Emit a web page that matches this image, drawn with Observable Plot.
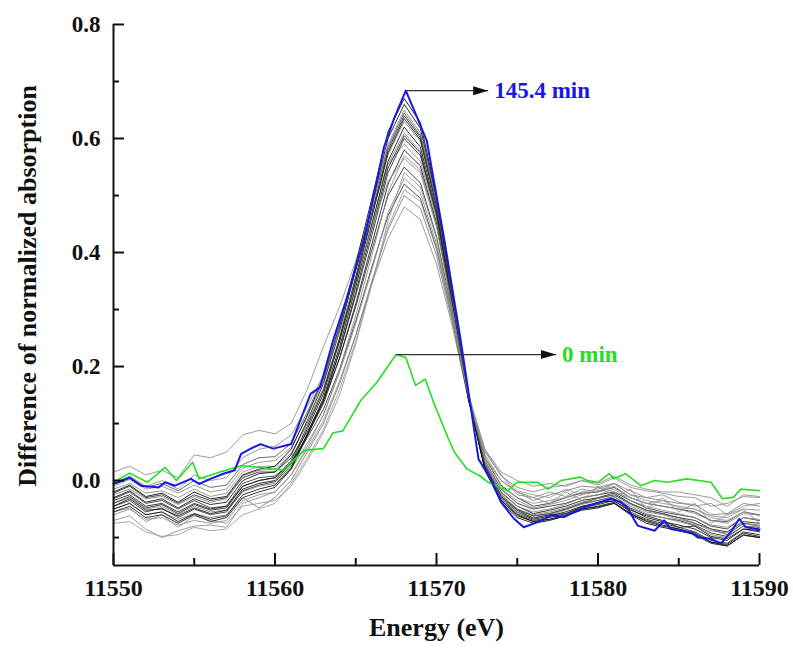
<!DOCTYPE html>
<html><head><meta charset="utf-8">
<script src="https://cdn.jsdelivr.net/npm/d3@7"></script>
<script src="https://cdn.jsdelivr.net/npm/@observablehq/plot@0.6"></script>
<style>body{margin:0;background:#fff}</style>
</head><body><div id="chart"></div>
<script>
// ---------- data ----------
const energyGrid = [11550,11551,11552,11553,11554,11555,11556,11557,11558,11559,
  11560,11561,11562,11563,11564,11565,11566,11567,11568,11569,
  11570,11571,11572,11573,11574,11575,11576,11577,11578,11579,
  11580,11581,11582,11583,11584,11585,11586,11587,11588,11589,11590];

const g01 = [-0.070,-0.062,-0.085,-0.100,-0.088,-0.080,-0.078,-0.082,-0.040,-0.030,
 -0.020,0.010,0.055,0.105,0.175,0.255,0.345,0.425,0.480,0.458,
 0.380,0.268,0.140,0.052,0.008,-0.012,-0.020,-0.012,-0.008,0.000,
 -0.008,0.005,-0.012,-0.018,-0.022,-0.028,-0.030,-0.045,-0.040,-0.028,-0.030];
const g02 = [-0.050,-0.040,-0.060,-0.055,-0.068,-0.058,-0.065,-0.060,-0.030,-0.048,
 -0.030,0.000,0.050,0.100,0.170,0.255,0.350,0.440,0.500,0.478,
 0.395,0.275,0.140,0.045,0.000,-0.020,-0.035,-0.025,-0.018,-0.010,
 -0.012,-0.005,-0.025,-0.030,-0.035,-0.040,-0.042,-0.060,-0.058,-0.040,-0.045];
const g03 = [-0.032,-0.020,-0.040,-0.035,-0.050,-0.035,-0.048,-0.045,-0.005,0.005,
 0.008,0.030,0.075,0.125,0.195,0.280,0.375,0.465,0.520,0.495,
 0.408,0.282,0.138,0.040,-0.008,-0.030,-0.045,-0.040,-0.030,-0.022,
 -0.020,-0.012,-0.030,-0.040,-0.045,-0.050,-0.055,-0.070,-0.072,-0.055,-0.060];
const g04 = [-0.040,-0.030,-0.050,-0.045,-0.060,-0.045,-0.055,-0.052,-0.020,-0.010,
 -0.005,0.020,0.065,0.115,0.190,0.275,0.370,0.470,0.530,0.505,
 0.415,0.288,0.150,0.055,0.015,0.000,-0.010,-0.005,-0.010,0.000,
 -0.005,0.008,-0.008,-0.015,-0.020,-0.020,-0.025,-0.030,-0.045,-0.025,-0.028];
const g05 = [-0.022,-0.010,-0.030,-0.025,-0.040,-0.025,-0.035,-0.030,0.005,0.015,
 0.015,0.040,0.085,0.140,0.215,0.305,0.405,0.500,0.550,0.522,
 0.428,0.292,0.140,0.035,-0.015,-0.040,-0.050,-0.045,-0.040,-0.030,
 -0.025,-0.020,-0.035,-0.048,-0.055,-0.060,-0.065,-0.080,-0.085,-0.065,-0.070];
const g06 = [-0.060,-0.050,-0.068,-0.065,-0.078,-0.070,-0.075,-0.070,-0.035,-0.025,
 -0.020,0.010,0.060,0.115,0.195,0.290,0.395,0.505,0.570,0.545,
 0.448,0.300,0.142,0.035,-0.015,-0.035,-0.048,-0.042,-0.035,-0.025,
 -0.018,-0.010,-0.030,-0.040,-0.045,-0.050,-0.058,-0.070,-0.075,-0.058,-0.060];
const g07 = [-0.035,-0.025,-0.045,-0.040,-0.055,-0.040,-0.050,-0.045,-0.010,0.000,
 0.005,0.030,0.080,0.135,0.215,0.310,0.415,0.520,0.580,0.552,
 0.452,0.302,0.142,0.030,-0.020,-0.045,-0.058,-0.052,-0.045,-0.035,
 -0.030,-0.022,-0.040,-0.052,-0.058,-0.065,-0.070,-0.085,-0.090,-0.072,-0.075];
const g08 = [0.015,0.025,0.010,0.018,0.005,0.045,0.040,0.050,0.080,0.088,
 0.082,0.100,0.160,0.235,0.305,0.385,0.475,0.555,0.590,0.560,
 0.460,0.310,0.150,0.040,-0.010,-0.030,-0.040,-0.035,-0.030,-0.020,
 -0.015,-0.005,-0.025,-0.035,-0.040,-0.045,-0.050,-0.062,-0.065,-0.050,-0.052];
const g09 = [-0.045,-0.035,-0.055,-0.048,-0.065,-0.050,-0.060,-0.055,-0.018,-0.008,
 -0.002,0.025,0.080,0.140,0.225,0.325,0.430,0.540,0.600,0.570,
 0.465,0.308,0.142,0.028,-0.025,-0.050,-0.062,-0.058,-0.050,-0.040,
 -0.035,-0.028,-0.048,-0.060,-0.065,-0.070,-0.078,-0.092,-0.098,-0.080,-0.082];
const g10 = [-0.015,-0.005,-0.022,-0.018,-0.030,-0.015,-0.028,-0.022,0.015,0.025,
 0.025,0.048,0.100,0.160,0.245,0.345,0.450,0.555,0.610,0.578,
 0.470,0.310,0.145,0.030,-0.022,-0.045,-0.055,-0.050,-0.042,-0.030,
 -0.025,-0.015,-0.035,-0.045,-0.052,-0.058,-0.065,-0.078,-0.082,-0.065,-0.068];
const g11 = [-0.050,-0.040,-0.060,-0.055,-0.072,-0.058,-0.068,-0.062,-0.025,-0.015,
 -0.008,0.022,0.082,0.145,0.235,0.340,0.450,0.560,0.620,0.585,
 0.475,0.312,0.142,0.025,-0.030,-0.055,-0.068,-0.062,-0.055,-0.045,
 -0.040,-0.032,-0.050,-0.065,-0.072,-0.078,-0.085,-0.100,-0.105,-0.085,-0.090];
const g12 = [-0.025,-0.015,-0.032,-0.028,-0.042,-0.028,-0.038,-0.032,0.008,0.018,
 0.020,0.045,0.100,0.162,0.250,0.355,0.465,0.572,0.630,0.595,
 0.480,0.315,0.145,0.028,-0.025,-0.050,-0.060,-0.055,-0.048,-0.038,
 -0.032,-0.025,-0.042,-0.055,-0.060,-0.068,-0.075,-0.088,-0.092,-0.075,-0.078];
const g13 = [-0.040,-0.028,-0.048,-0.042,-0.058,-0.042,-0.052,-0.048,-0.010,0.000,
 0.005,0.035,0.095,0.158,0.250,0.358,0.470,0.580,0.640,0.602,
 0.485,0.315,0.142,0.022,-0.032,-0.058,-0.070,-0.065,-0.058,-0.048,
 -0.042,-0.035,-0.055,-0.068,-0.075,-0.082,-0.090,-0.105,-0.110,-0.090,-0.095];
const g14 = [-0.010,0.002,-0.015,-0.010,-0.022,-0.008,-0.020,-0.015,0.022,0.032,
 0.035,0.058,0.112,0.175,0.265,0.370,0.482,0.590,0.650,0.610,
 0.490,0.318,0.145,0.025,-0.030,-0.055,-0.065,-0.060,-0.052,-0.042,
 -0.035,-0.028,-0.045,-0.058,-0.065,-0.072,-0.080,-0.095,-0.100,-0.080,-0.085];
const g15 = [-0.030,-0.018,-0.038,-0.032,-0.048,-0.032,-0.042,-0.038,0.000,0.012,
 0.015,0.045,0.105,0.170,0.262,0.370,0.485,0.600,0.660,0.618,
 0.495,0.320,0.142,0.020,-0.035,-0.062,-0.072,-0.068,-0.060,-0.050,
 -0.045,-0.038,-0.058,-0.072,-0.080,-0.085,-0.092,-0.108,-0.112,-0.092,-0.098];
const g16 = [-0.020,-0.008,-0.028,-0.022,-0.038,-0.020,-0.032,-0.028,0.010,0.020,
 0.025,0.055,0.115,0.180,0.272,0.380,0.495,0.612,0.670,0.628,
 0.500,0.322,0.142,0.018,-0.038,-0.065,-0.075,-0.070,-0.062,-0.052,
 -0.048,-0.040,-0.060,-0.075,-0.082,-0.088,-0.095,-0.110,-0.115,-0.095,-0.100];
const g17 = [-0.055,-0.048,-0.072,-0.060,-0.082,-0.062,-0.070,-0.075,-0.045,-0.040,
 -0.035,-0.010,0.035,0.085,0.150,0.240,0.345,0.455,0.540,0.515,
 0.425,0.290,0.145,0.050,0.010,-0.025,-0.030,-0.040,-0.020,-0.035,
 -0.010,-0.030,-0.015,-0.050,-0.030,-0.055,-0.040,-0.075,-0.060,-0.050,-0.075];
const g18 = [-0.055,-0.045,-0.065,-0.060,-0.075,-0.060,-0.072,-0.065,-0.030,-0.020,
 -0.012,0.020,0.078,0.140,0.228,0.330,0.440,0.548,0.605,0.575,
 0.468,0.308,0.140,0.025,-0.028,-0.052,-0.066,-0.060,-0.058,-0.046,
 -0.038,-0.036,-0.052,-0.062,-0.070,-0.082,-0.080,-0.098,-0.102,-0.085,-0.088];
const g19 = [-0.005,0.008,-0.010,0.000,-0.015,0.010,0.000,0.005,0.040,0.055,
 0.060,0.080,0.130,0.185,0.260,0.350,0.445,0.525,0.565,0.540,
 0.445,0.300,0.145,0.040,0.000,-0.020,-0.030,-0.020,-0.028,-0.015,
 -0.020,-0.005,-0.018,-0.030,-0.025,-0.038,-0.045,-0.040,-0.060,-0.045,-0.040];
const g20 = [-0.045,-0.032,-0.052,-0.050,-0.062,-0.048,-0.058,-0.052,-0.015,-0.005,
 0.000,0.030,0.090,0.152,0.245,0.350,0.462,0.575,0.635,0.598,
 0.482,0.316,0.142,0.020,-0.035,-0.060,-0.072,-0.068,-0.062,-0.050,
 -0.046,-0.040,-0.058,-0.070,-0.078,-0.085,-0.094,-0.108,-0.114,-0.096,-0.100];
const g21 = [-0.075,-0.072,-0.090,-0.098,-0.095,-0.082,-0.088,-0.085,-0.060,-0.050,
 -0.040,-0.005,0.040,0.090,0.160,0.245,0.345,0.445,0.510,0.490,
 0.405,0.280,0.145,0.055,0.010,-0.018,-0.025,-0.030,-0.015,-0.025,
 -0.012,-0.020,-0.030,-0.040,-0.035,-0.048,-0.050,-0.065,-0.070,-0.055,-0.062];
const g22 = [-0.005,0.006,-0.012,-0.005,-0.018,0.000,-0.012,-0.008,0.028,0.040,
 0.042,0.065,0.120,0.182,0.270,0.372,0.480,0.585,0.645,0.605,
 0.485,0.316,0.146,0.028,-0.028,-0.052,-0.062,-0.058,-0.050,-0.040,
 -0.030,-0.025,-0.040,-0.052,-0.058,-0.065,-0.075,-0.085,-0.095,-0.075,-0.080];
const grayShades = ["#8a8a8a","#7a7a7a","#333333","#8a8a8a","#2a2a2a","#888888","#1a1a1a","#8c8c8c",
                    "#2a2a2a","#8a8a8a","#111111","#7e7e7e","#222222","#8a8a8a","#111111","#000000",
                    "#909090","#1a1a1a","#8a8a8a","#111111","#999999","#555555"];

// 0 min (green)
const greenE = [11550,11551,11552.1,11553.2,11553.9,11554.9,11555.3,11556.6,11557.9,11559.1,11560.5,
  11561.8,11563,11563.6,11564.2,11565.3,11566.3,11567.5,11568.1,11568.7,11569.3,11569.85,11570.7,
  11571.1,11571.9,11572.7,11573.2,11574.4,11575,11576.25,11576.9,11577.7,11578.9,11579.35,11580,
  11580.7,11581,11581.7,11582.65,11583.5,11584.3,11585.5,11587,11587.7,11588.4,11588.85,11590];
const greenV = [-0.003,0.013,-0.003,0.023,0.0,0.032,0.003,0.015,0.026,0.023,0.018,
  0.053,0.056,0.084,0.087,0.14,0.172,0.221,0.216,0.167,0.178,0.135,0.076,
  0.05,0.02,0.008,-0.003,-0.018,-0.003,-0.003,-0.015,0.0,0.006,0.0,-0.003,
  0.012,0.003,0.012,-0.009,0.0,-0.003,0.003,-0.003,-0.032,-0.029,-0.015,-0.018];

// 145.4 min (blue)
const blueE = [11550,11551,11551.7,11552.8,11553.2,11553.8,11554.8,11555.3,11556,11556.8,11557.5,
  11557.9,11558.5,11559.1,11559.9,11560.6,11561,11561.6,11562.2,11562.8,11563.6,11564.4,11565.5,
  11566.75,11567.4,11568.1,11568.8,11569.4,11570.5,11571.5,11572.6,11573.4,11574,11574.8,11575.4,
  11576.25,11577.1,11577.9,11579.1,11580.8,11581.4,11581.8,11582.45,11583.5,11584.1,11584.5,
  11585.1,11585.75,11586.2,11587,11587.6,11588.2,11588.75,11589.15,11590];
const blueV = [-0.006,0.005,-0.009,-0.012,-0.003,-0.009,0.003,-0.006,0.003,0.012,0.018,
  0.047,0.056,0.064,0.056,0.061,0.064,0.108,0.152,0.164,0.246,0.316,0.42,
  0.585,0.637,0.684,0.637,0.596,0.42,0.246,0.038,0.0,-0.038,-0.067,-0.082,
  -0.073,-0.061,-0.064,-0.047,-0.032,-0.038,-0.047,-0.079,-0.088,-0.07,-0.085,
  -0.088,-0.091,-0.1,-0.102,-0.111,-0.091,-0.067,-0.082,-0.086];

// annotations
const annotLabels = ["145.4 min", "0 min"];
const annotPeakE = [11568.1, 11567.5];
const annotPeakV = [0.684, 0.221];
const annotTipE = [11573.2, 11577.4];
const annotColors = ["#1818e6", "#22e022"];

// axes
const xDomain = [11550, 11590];
const yDomain = [-0.149, 0.8];
const xMajor = [11550, 11560, 11570, 11580, 11590];
const xMinor = [11555, 11565, 11575, 11585];
const yMajor = [0.0, 0.2, 0.4, 0.6, 0.8];
const yMinor = [-0.1, 0.1, 0.3, 0.5, 0.7];
const xTitle = "Energy (eV)";
const yTitle = "Difference of normalized absorption";

// ---------- build ----------
const grays = [g01,g02,g03,g04,g05,g06,g07,g08,g09,g10,g11,g12,g13,g14,g15,g16,g17,g18,g19,g20,g21,g22];
const toRows = (E, V) => E.map((e, i) => ({E: e, v: V[i]}));
const annots = annotLabels.map((t, i) => ({label: t, pE: annotPeakE[i], v: annotPeakV[i], tE: annotTipE[i], c: annotColors[i]}));

const arrowHead = {draw(ctx) { ctx.moveTo(0, 0); ctx.lineTo(-15, -4.5); ctx.lineTo(-15, 4.5); ctx.closePath(); }};

const marks = [];
grays.forEach((g, i) => marks.push(Plot.line(toRows(energyGrid, g), {x: "E", y: "v", stroke: grayShades[i], strokeWidth: 1, strokeOpacity: 0.85})));
marks.push(Plot.line(toRows(greenE, greenV), {x: "E", y: "v", stroke: annotColors[1], strokeWidth: 1.6}));
marks.push(Plot.line(toRows(blueE, blueV), {x: "E", y: "v", stroke: annotColors[0], strokeWidth: 2}));
annots.forEach(a => {
  marks.push(Plot.link([a], {x1: "pE", y1: "v", x2: "tE", y2: "v", stroke: "#333", strokeWidth: 1.2}));
  marks.push(Plot.dot([a], {x: "tE", y: "v", symbol: arrowHead, r: 5, fill: "#111", stroke: "none"}));
  marks.push(Plot.text([a], {x: "tE", y: "v", text: "label", fill: a.c, textAnchor: "start", dx: 6, fontSize: 23, fontWeight: "bold"}));
});
marks.push(Plot.ruleX([xDomain[0]], {stroke: "#111", strokeWidth: 2}));
marks.push(Plot.ruleY([yDomain[0]], {stroke: "#111", strokeWidth: 2}));
marks.push(Plot.axisY({ticks: yMajor, tickSize: 11, dx: 11, fill: "none", stroke: "#111", strokeWidth: 2, label: null}));
marks.push(Plot.axisY({ticks: yMinor, tickSize: 6, dx: 6, fill: "none", stroke: "#111", strokeWidth: 2, label: null}));
marks.push(Plot.axisX({ticks: xMajor, tickSize: 12, dy: -12, fill: "none", stroke: "#111", strokeWidth: 2, label: null}));
marks.push(Plot.axisX({ticks: xMinor, tickSize: 7, dy: -7, fill: "none", stroke: "#111", strokeWidth: 2, label: null}));
marks.push(Plot.axisY({ticks: yMajor, tickSize: 0, tickPadding: 13, tickFormat: d3.format(".1f"), label: null, fill: "#111", fontSize: 23}));
marks.push(Plot.axisX({ticks: xMajor, tickSize: 0, tickPadding: 13, tickFormat: d3.format("d"), label: null, fill: "#111", fontSize: 24}));
marks.push(Plot.text([xTitle], {frameAnchor: "bottom", dy: 70, fontSize: 26, fill: "#111"}));
marks.push(Plot.text([yTitle], {frameAnchor: "left", textAnchor: "middle", rotate: -90, dx: -86, dy: -9, fontSize: 26, fill: "#111"}));

const chart = Plot.plot({
  width: 793,
  height: 650,
  marginLeft: 113,
  marginRight: 34,
  marginTop: 24,
  marginBottom: 85,
  x: {domain: xDomain, label: null},
  y: {domain: yDomain, label: null},
  style: {fontFamily: "'Liberation Serif', 'Times New Roman', serif", fontWeight: "bold", fontSize: "22px", background: "#fff", color: "#111"},
  marks
});
document.getElementById("chart").appendChild(chart);
</script>
</body></html>
